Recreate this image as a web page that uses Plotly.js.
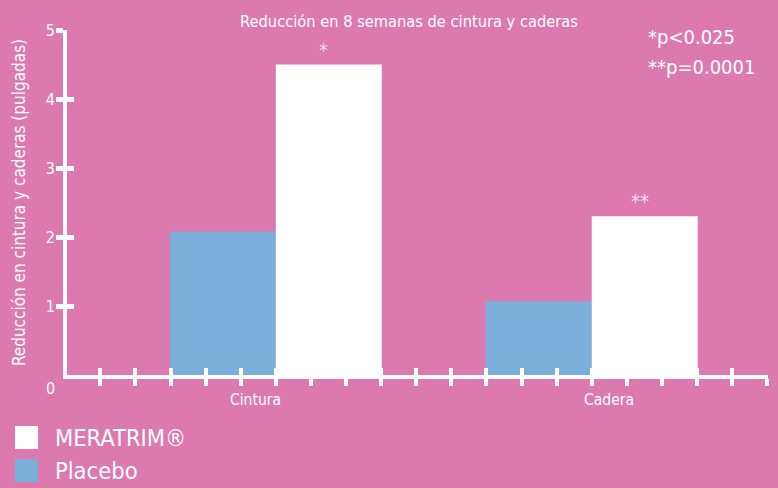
<!DOCTYPE html>
<html>
<head>
<meta charset="utf-8">
<script src="https://cdn.plot.ly/plotly-3.0.1.min.js"></script>
<style>html,body{margin:0;padding:0;background:#DC7AAF;}#chart{width:778px;height:488px;}</style>
</head>
<body>
<div id="chart"></div>
<script>
// ---- data ----
const categories = ['Cintura', 'Cadera'];
const seriesNames = ['Placebo', 'MERATRIM®'];
const placeboValues = [2.08, 1.07];
const meratrimValues = [4.5, 2.3];
const significanceMarks = ['*', '**'];
const yTickValues = [1, 2, 3, 4, 5];
const pValueNotes = ['*p<0.025', '**p=0.0001'];
const chartTitle = 'Reducción en 8 semanas de cintura y caderas';
const yTitle = 'Reducción en cintura y caderas (pulgadas)';

// ---- style ----
const BG = '#DC7AAF';
const BLUE = '#7AAFDC';
const WHITE = '#FFFFFF';
const FONT = "'Liberation Sans Narrow', 'DejaVu Sans Condensed', 'Arial Narrow', sans-serif";
const W = 778, H = 488;
const M = {l: 67, r: 10, t: 30, b: 113};
const pw = W - M.l - M.r, ph = H - M.t - M.b;
const px2x = p => (p - M.l) / pw;
const px2y = p => (H - M.b - p) / ph;

const xIdx = categories.map((c, i) => i);
const seriesValues = [placeboValues, meratrimValues];
const seriesColors = [BLUE, WHITE];
const xRange = [-0.661, 1.558];
const bargap = 0.329;
const barW = (1 - bargap) / 2;

const traces = seriesNames.map((name, s) => ({
  type: 'bar', name: name, x: xIdx, y: seriesValues[s],
  marker: {color: seriesColors[s], line: {width: 0}},
  hoverinfo: 'skip', showlegend: false
}));
traces.push({type: 'scatter', x: [], y: [], xaxis: 'x2', yaxis: 'y2',
  showlegend: false, hoverinfo: 'skip'});

const annotations = [];
// category labels (slightly offset as in the original)
const labelShift = [-0.065, 0.056];
categories.forEach((c, i) => annotations.push({
  text: c, x: i + labelShift[i], xref: 'x', y: px2y(400), yref: 'paper',
  showarrow: false, xanchor: 'center', yanchor: 'middle',
  font: {family: FONT, size: 15.5, color: WHITE}
}));
// significance stars above MERATRIM bars
significanceMarks.forEach((m, i) => annotations.push({
  text: m, x: i + barW / 2, xref: 'x', y: meratrimValues[i], yref: 'y',
  showarrow: false, xanchor: 'center', yanchor: 'bottom', xshift: -5, yshift: 1,
  font: {family: FONT, size: 20, color: '#F6DCEA'}
}));
// zero label
annotations.push({text: '0', x: px2x(50), xref: 'paper', y: px2y(389), yref: 'paper',
  showarrow: false, xanchor: 'center', yanchor: 'middle',
  font: {family: FONT, size: 16, color: WHITE}});
// p-value notes
pValueNotes.forEach((t, i) => annotations.push({
  text: t, x: px2x(646), xref: 'paper', y: px2y(37 + i * 30), yref: 'paper',
  showarrow: false, xanchor: 'left', yanchor: 'middle',
  font: {family: FONT, size: 20, color: WHITE}
}));
// custom legend (MERATRIM first, then Placebo)
const legendOrder = [1, 0];
const shapes = [];
legendOrder.forEach((s, k) => {
  const top = 426 + k * 33;
  shapes.push({type: 'rect', xref: 'paper', yref: 'paper',
    x0: px2x(15), x1: px2x(38), y0: px2y(top), y1: px2y(top + 23),
    fillcolor: seriesColors[s], line: {width: 0}});
  annotations.push({text: seriesNames[s], x: px2x(53), xref: 'paper',
    y: px2y(top + 12), yref: 'paper', showarrow: false,
    xanchor: 'left', yanchor: 'middle',
    font: {family: FONT, size: 23.5, color: WHITE}});
});

const axCommon = {showgrid: false, zeroline: false, fixedrange: true};
const layout = {
  width: W, height: H, margin: M,
  paper_bgcolor: BG, plot_bgcolor: BG,
  font: {family: FONT, color: WHITE},
  barmode: 'group', bargap: bargap, bargroupgap: 0,
  title: {text: chartTitle, x: 409 / W, xref: 'container', xanchor: 'center',
    y: 1 - 21 / H, yref: 'container', yanchor: 'middle',
    font: {family: FONT, size: 16.3, color: WHITE}},
  xaxis: Object.assign({}, axCommon, {range: xRange, showline: true, linecolor: WHITE, linewidth: 4,
    ticks: 'outside', ticklen: 7, tickwidth: 4, tickcolor: WHITE,
    tick0: 0, dtick: 1 / 9, showticklabels: false}),
  xaxis2: Object.assign({}, axCommon, {range: xRange, overlaying: 'x', anchor: 'y2', side: 'bottom',
    showline: false, ticks: 'inside', ticklen: 7, tickwidth: 4, tickcolor: WHITE,
    tick0: 0, dtick: 1 / 9, showticklabels: false}),
  yaxis: Object.assign({}, axCommon, {range: [0, 5], showline: true, linecolor: WHITE, linewidth: 4,
    ticks: 'outside', ticklen: 7, tickwidth: 5, tickcolor: WHITE,
    tickvals: yTickValues, ticklabelstandoff: -2,
    tickfont: {family: FONT, size: 16, color: WHITE},
    title: {text: yTitle, standoff: 17, font: {family: FONT, size: 17, color: WHITE}}}),
  yaxis2: Object.assign({}, axCommon, {range: [0, 5], overlaying: 'y', anchor: 'x2', side: 'left',
    showline: false, ticks: 'inside', ticklen: 7, tickwidth: 5, tickcolor: WHITE,
    tickvals: yTickValues, showticklabels: false}),
  annotations: annotations, shapes: shapes, showlegend: false
};

Plotly.newPlot('chart', traces, layout, {displayModeBar: false, staticPlot: true});
</script>
</body>
</html>
